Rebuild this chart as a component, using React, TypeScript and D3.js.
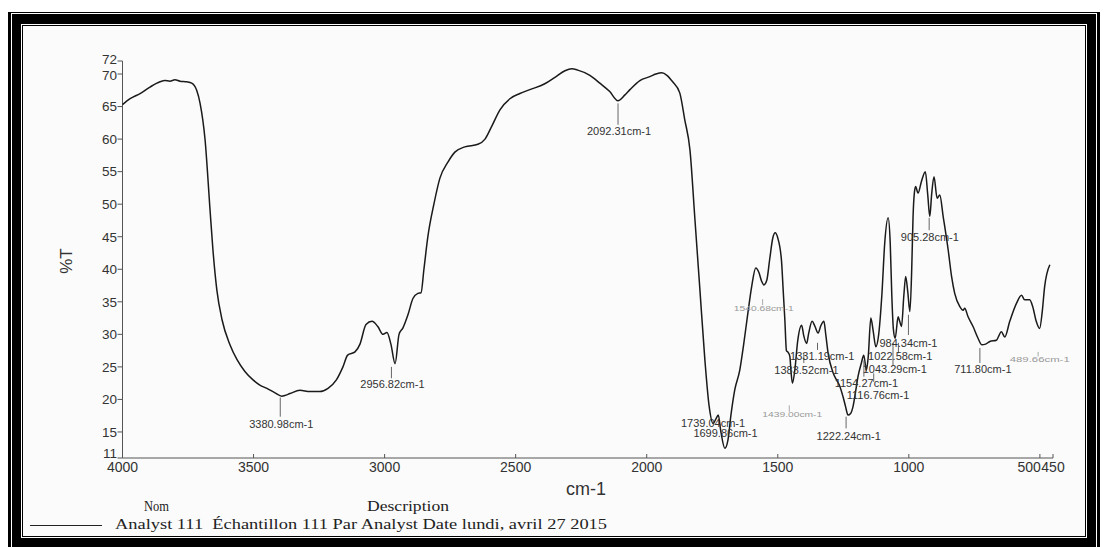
import React from 'react';
import * as d3 from 'd3';

// ---- data ----
const wavenumbers = [
  4000, 3971, 3933, 3895, 3857, 3838, 3819, 3800, 3781, 3755, 3736, 3717, 3704, 3685, 3666, 3655, 3640, 3620,
  3590, 3563, 3533, 3502, 3476, 3449, 3418, 3392, 3381, 3361, 3323, 3285, 3247, 3216, 3184, 3159, 3141, 3113,
  3094, 3071, 3048, 3026, 3006, 2991, 2976, 2960, 2945, 2930, 2911, 2892, 2873, 2861, 2850, 2835, 2812, 2789,
  2758, 2732, 2694, 2644, 2617, 2591, 2560, 2522, 2484, 2446, 2389, 2350, 2312, 2286, 2263, 2217, 2179, 2141,
  2110, 2083, 2064, 2026, 1988, 1965, 1942, 1923, 1901, 1874, 1855, 1835, 1816, 1797, 1778, 1762, 1747, 1736,
  1727, 1717, 1702, 1690, 1679, 1664, 1645, 1630, 1614, 1599, 1584, 1572, 1562, 1553, 1542, 1531, 1519, 1510,
  1500, 1486, 1479, 1473, 1467, 1460, 1454, 1449, 1444, 1435, 1424, 1409, 1401, 1390, 1382, 1369, 1359, 1346,
  1336, 1324, 1317, 1308, 1289, 1276, 1263, 1251, 1242, 1232, 1223, 1213, 1202, 1194, 1181, 1172, 1162, 1155,
  1145, 1136, 1126, 1115, 1103, 1092, 1079, 1071, 1065, 1059, 1052, 1041, 1035, 1028, 1019, 1012, 1004, 996,
  989, 984, 979, 974, 965, 952, 937, 928, 920, 913, 904, 892, 882, 869, 850, 837, 825, 806, 793, 787, 774, 755,
  736, 722, 707, 691, 666, 647, 634, 615, 589, 570, 558, 539, 527, 514, 501, 491, 482, 462,
];
const transmittance = [
  65.3, 66.2, 67.0, 68.0, 68.8, 69.0, 68.9, 69.1, 68.9, 68.8, 68.6, 67.5, 65.5, 59.9, 49.1, 43.0, 36.8, 32.2,
  28.4, 26.1, 24.3, 23.0, 22.2, 21.7, 21.0, 20.5, 20.6, 20.9, 21.4, 21.2, 21.2, 21.7, 23.0, 25.0, 26.8, 27.3,
  28.5, 31.5, 32.0, 31.2, 30.0, 30.3, 28.5, 25.5, 30.0, 31.0, 33.0, 35.5, 36.3, 36.4, 40.0, 45.0, 50.0, 54.0,
  56.5, 58.0, 58.8, 59.2, 60.0, 62.0, 64.5, 66.2, 67.0, 67.6, 68.5, 69.5, 70.5, 70.8, 70.6, 69.8, 68.6, 67.3,
  65.9, 66.8, 67.6, 69.0, 69.6, 70.0, 70.2, 69.8, 68.8, 67.1, 63.0, 58.3, 47.6, 36.8, 26.0, 19.0, 16.3, 17.0,
  17.6, 15.0, 12.5, 13.8, 17.5, 21.5, 24.5, 28.5, 33.3, 37.5, 40.2, 39.5, 38.2, 37.6, 38.3, 41.5, 44.8, 45.6,
  44.8, 41.4, 36.5, 32.2, 27.5, 27.2, 26.6, 24.0, 22.5, 24.5, 29.0, 31.4, 29.8, 28.6, 30.2, 32.0, 31.3, 30.2,
  31.3, 32.0, 30.0, 27.1, 24.1, 23.0, 22.0, 20.4, 19.0, 17.6, 17.8, 18.9, 21.5, 23.5, 25.6, 26.8, 24.5, 26.5,
  32.5, 30.5, 28.1, 30.0, 36.0, 44.0, 47.9, 44.0, 36.0, 30.8, 29.4, 32.7, 32.0, 31.2, 36.0, 38.9, 36.5, 33.5,
  40.0, 48.0, 51.7, 52.7, 51.7, 53.5, 55.0, 51.5, 48.1, 51.5, 54.2, 50.9, 51.4, 48.1, 43.0, 38.9, 36.3, 34.3, 33.7, 34.0, 32.7, 31.2,
  29.4, 28.4, 28.5, 28.9, 29.1, 30.4, 29.6, 32.0, 34.8, 36.0, 35.3, 35.3, 34.2, 32.0, 30.9, 33.5, 37.3, 40.7,
];

const xTicks = [4000, 3500, 3000, 2500, 2000, 1500, 1000, 500, 450];
const yTicks = [11, 15, 20, 25, 30, 35, 40, 45, 50, 55, 60, 65, 70, 72];

const peakWavenumbers = [
  3380.98, 2956.82, 2092.31, 1739.04, 1699.86, 1540.68, 1439.0, 1383.52, 1331.19,
  1222.24, 1154.27, 1116.76, 1043.29, 1022.58, 984.34, 905.28, 711.8, 489.66,
];
const peakLabels = peakWavenumbers.map((w) => `${w.toFixed(2)}cm-1`);
const faintPeaks = [1540.68, 1439.0, 489.66];

// label layout: tick top / bottom and text baseline in %T units, text dx in px
const peakLayout = [
  { top: 20.3, bottom: 17.35, dx: 1, base: 15.6 },
  { top: 25.0, bottom: 23.25, dx: 1, base: 21.7 },
  { top: 65.5, bottom: 62.2, dx: 1, base: 60.6 },
  { top: null, bottom: null, dx: 2.4, base: 15.7 },
  { top: null, bottom: null, dx: 4.6, base: 14.15 },
  { top: 35.4, bottom: 34.5, dx: 1.2, base: 33.6 },
  { top: 19.1, bottom: 18.1, dx: 3, base: 17.35 },
  { top: 27.1, bottom: 25.6, dx: 2.6, base: 23.9 },
  { top: 28.7, bottom: 27.6, dx: 4.7, base: 26.0 },
  { top: 17.35, bottom: 15.55, dx: 2.6, base: 13.8 },
  { top: 26.0, bottom: 23.5, dx: 2.5, base: 21.9 },
  { top: 24.0, bottom: 22.7, dx: 4.3, base: 20.1 },
  { top: 28.7, bottom: 25.2, dx: 1.8, base: 24.1 },
  { top: 28.7, bottom: 27.1, dx: 1.8, base: 26.1 },
  { top: 33.0, bottom: 29.9, dx: 0, base: 28.0 },
  { top: 47.9, bottom: 46.0, dx: 0.7, base: 44.4 },
  { top: 27.9, bottom: 25.6, dx: 3, base: 24.1 },
  { top: 27.3, bottom: 26.6, dx: 1.6, base: 25.75 },
];

const footerHeaders = ['Nom', 'Description'];
const footerLine = 'Analyst 111  Échantillon 111 Par Analyst Date lundi, avril 27 2015';

const W = 1107;
const H = 547;
const LABEL_SHIFT = -4.5;

export default function App() {
  const x = d3.scaleLinear().domain([4000, 450]).range([122.5, 1053]);
  const y = d3.scaleLinear().domain([11, 72]).range([458, 61]);
  const pts = wavenumbers.map((w, i) => [w, transmittance[i]] as [number, number]);
  const line = d3
    .line<[number, number]>()
    .x((d) => x(d[0]))
    .y((d) => y(d[1]))
    .curve(d3.curveMonotoneX);

  const axisColor = '#555';
  const sans = "'Liberation Sans', Arial, sans-serif";
  const serif = "'Liberation Serif', 'DejaVu Serif', serif";

  // nudge the crowded end labels a little apart (as in the reference)
  const yLabelNudge = (t: number) => (t === 72 ? -1.5 : t === 70 ? 1 : t === 11 ? -5 : 0);

  return (
    <svg
      width={W}
      height={H}
      style={{ position: 'absolute', left: 0, top: 0, display: 'block' }}
      xmlns="http://www.w3.org/2000/svg"
    >
      <rect x={0} y={0} width={W} height={H} fill="#fff" />
      {/* frame */}
      <rect x={8} y={12} width={1092} height={545} fill="#000" />
      <rect x={11.5} y={13.5} width={1085} height={560} fill="none" stroke="#fff" strokeWidth={1} />
      <rect x={21} y={24} width={1066} height={514} fill="#fff" />
      <rect x={22} y={25} width={1064} height={512} fill="#000" />
      <rect x={23} y={26} width={1062} height={510} fill="#fbfbfb" />

      {/* y axis */}
      <line x1={122.5} x2={122.5} y1={y(72)} y2={y(11)} stroke={axisColor} strokeWidth={1} />
      {yTicks.map((t) => (
        <g key={t}>
          <line x1={117.5} x2={122.5} y1={y(t)} y2={y(t)} stroke={axisColor} strokeWidth={1} />
          <text
            x={117}
            y={y(t) + yLabelNudge(t)}
            dy="0.36em"
            textAnchor="end"
            fontFamily={sans}
            fontSize={13.5}
            fill="#333"
          >
            {t}
          </text>
        </g>
      ))}
      <text
        transform={`translate(66,261) rotate(-90)`}
        textAnchor="middle"
        dy="0.35em"
        fontFamily={sans}
        fontSize={17}
        fill="#333"
      >
        %T
      </text>

      {/* x axis */}
      <line x1={x(4000)} x2={x(450)} y1={y(11)} y2={y(11)} stroke={axisColor} strokeWidth={1} />
      {xTicks.map((t) => (
        <g key={t}>
          <line x1={x(t)} x2={x(t)} y1={y(11) - 4} y2={y(11)} stroke={axisColor} strokeWidth={1} />
          <text
            x={t === 500 ? x(t) + 1 : x(t)}
            y={472}
            textAnchor={t === 500 ? 'end' : 'middle'}
            fontFamily={sans}
            fontSize={14}
            fill="#333"
          >
            {t}
          </text>
        </g>
      ))}
      <text x={586} y={495} textAnchor="middle" fontFamily={sans} fontSize={18} fill="#333">
        cm-1
      </text>

      {/* spectrum */}
      <path d={line(pts) || ''} fill="none" stroke="#1a1a1a" strokeWidth={1.5} strokeLinejoin="round" />

      {/* peak labels */}
      {peakWavenumbers.map((w, i) => {
        const lay = peakLayout[i];
        const faint = faintPeaks.includes(w);
        const px = x(w) + LABEL_SHIFT;
        return (
          <g key={w}>
            {lay.top !== null && (
              <line
                x1={px}
                x2={px}
                y1={y(lay.top as number)}
                y2={y(lay.bottom as number)}
                stroke={faint ? '#aaa' : '#666'}
                strokeWidth={1}
              />
            )}
            {faint ? (
              <text
                x={px + lay.dx}
                y={y(lay.base)}
                textAnchor="middle"
                fontFamily={sans}
                fontSize={7.5}
                textLength={60}
                lengthAdjust="spacingAndGlyphs"
                fill="#999"
              >
                {peakLabels[i]}
              </text>
            ) : (
              <text
                x={px + lay.dx}
                y={y(lay.base)}
                textAnchor="middle"
                fontFamily={sans}
                fontSize={11}
                fill="#333"
              >
                {peakLabels[i]}
              </text>
            )}
          </g>
        );
      })}

      {/* footer */}
      <text x={144} y={511} fontFamily={serif} fontSize={15} textLength={25} lengthAdjust="spacingAndGlyphs" fill="#222">
        {footerHeaders[0]}
      </text>
      <text x={367} y={511} fontFamily={serif} fontSize={15} textLength={82} lengthAdjust="spacingAndGlyphs" fill="#222">
        {footerHeaders[1]}
      </text>
      <line x1={30} x2={102} y1={525.5} y2={525.5} stroke="#222" strokeWidth={1.2} />
      <text
        x={115}
        y={529}
        fontFamily={serif}
        fontSize={15}
        textLength={492}
        lengthAdjust="spacingAndGlyphs"
        fill="#222"
        xmlSpace="preserve"
      >
        {footerLine}
      </text>
    </svg>
  );
}
